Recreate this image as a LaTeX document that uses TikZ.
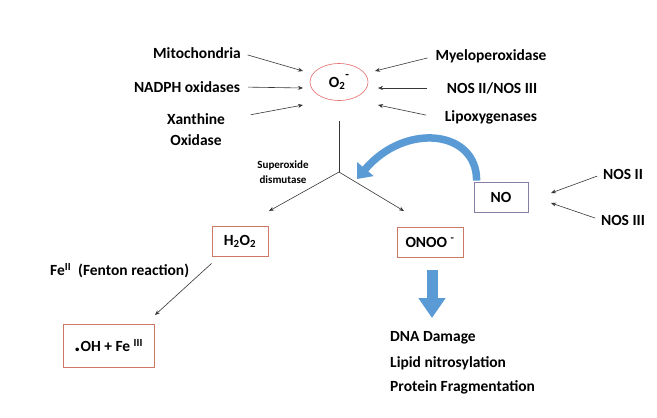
\documentclass[tikz,border=0pt]{standalone}
\usepackage{fontspec}
\setmainfont{Carlito}
\usetikzlibrary{arrows.meta,shapes.geometric}
\definecolor{boxred}{RGB}{205,120,100}
\definecolor{ellred}{RGB}{228,110,110}
\definecolor{nobox}{RGB}{135,125,165}
\definecolor{arrblue}{RGB}{91,155,213}
\definecolor{lncol}{RGB}{55,55,55}
\begin{document}
\begin{tikzpicture}[x=1pt,y=-1pt,
  lbl/.style={font=\fontsize{15.5}{21}\selectfont\bfseries, inner sep=0pt, align=center},
  small/.style={font=\fontsize{11}{15}\selectfont\bfseries, inner sep=0pt, align=center},
  conn/.style={draw=lncol, line width=0.6pt, -{Stealth[length=5pt,width=4pt]}},
  plain/.style={draw=lncol, line width=0.6pt},
  rbox/.style={draw=boxred, line width=0.8pt, font=\fontsize{15.5}{18}\selectfont\bfseries, inner sep=0pt}
]
\useasboundingbox (0,0) rectangle (657,418);
\fill[white] (0,0) rectangle (657,418);

% superoxide
\node[draw=ellred, line width=0.6pt, ellipse, minimum width=58pt, minimum height=37pt, inner sep=0pt, font=\fontsize{15.5}{18}\selectfont\bfseries] (o2) at (339,82) {\raisebox{-2pt}{O\textsubscript{2}}\raisebox{7pt}{\fontsize{12}{12}\selectfont -}};

% sources left
\node[lbl] (mito) at (197,53) {Mitochondria};
\node[lbl] (nadph) at (187,87) {NADPH oxidases};
\node[lbl] (xo) at (196,129.5) {Xanthine\\Oxidase};
% sources right
\node[lbl] (myelo) at (491,56) {Myeloperoxidase};
\node[lbl] (nos) at (492,88) {NOS II/NOS III};
\node[lbl] (lipo) at (491,117) {Lipoxygenases};

\coordinate (m1) at (303,71);
\coordinate (n1) at (303,88);
\coordinate (x1) at (303,105);
\coordinate (r1) at (375,71);
\coordinate (r2) at (378,88);
\coordinate (r3) at (378,105);
\draw[conn, shorten <=7pt] (mito.east) -- (m1);
\draw[conn, shorten <=8pt] (nadph.east) -- (n1);
\draw[conn, shorten <=26pt] ([yshift=10pt]xo.east) -- (x1);
\draw[conn, shorten <=8pt] (myelo.west) -- (r1);
\draw[conn, shorten <=20pt] (nos.west) -- (r2);
\draw[conn, shorten <=19pt] ([yshift=-2pt]lipo.west) -- (r3);

% dismutase junction
\coordinate (ytop) at (339,121);
\coordinate (yv) at (339,172);
\coordinate (yl) at (269,211);
\coordinate (yr) at (404,211);
\draw[plain] (ytop) -- (yv);
\draw[conn] (yv) -- (yl);
\draw[conn] (yv) -- (yr);
\node[small] (sod) at (283,172.5) {Superoxide\\dismutase};

% products
\node[rbox, minimum width=56pt, minimum height=30pt] (h2o2) at (240,241) {H\textsubscript{2}O\textsubscript{2}};
\node[rbox, minimum width=66pt, minimum height=30pt] (onoo) at (430,242) {ONOO \textsuperscript{-}};
\node[draw=nobox, line width=0.8pt, minimum width=54pt, minimum height=30pt, inner sep=0pt, font=\fontsize{15.5}{18}\selectfont\bfseries] (no) at (501,197) {NO};

% NOS into NO
\node[lbl] (nos2) at (623,174) {NOS II};
\node[lbl] (nos3) at (623,220) {NOS III};
\coordinate (no1) at (551,193);
\coordinate (no2) at (551,203);
\draw[conn, shorten <=6pt] (nos2.west) -- (no1);
\draw[conn, shorten <=6pt] (nos3.west) -- (no2);

% NO curved arrow
\coordinate (cb) at (357,179);
\draw[arrblue, line width=7.5pt, -{Triangle[width=21pt,length=13pt]}] ([xshift=3pt,yshift=1pt]no.north west) .. controls (477,130) and (405,122) .. (cb);

% Fenton
\node[lbl, anchor=west] (fe) at (50,271) {Fe\textsuperscript{II}\ \ (Fenton reaction)};
\node[rbox, minimum width=91pt, minimum height=43pt] (oh) at (108.5,345.5) {{\fontsize{24}{18}\selectfont.}OH + Fe \textsuperscript{III}};
\coordinate (fe1) at (155,315);
\draw[conn] ([yshift=-7pt]h2o2.south west) -- (fe1);

% ONOO effects
\coordinate (dtop) at (432,270);
\coordinate (dbot) at (432,318);
\draw[arrblue, line width=11pt, -{Triangle[width=26pt,length=20pt]}] (dtop) -- (dbot);
\node[lbl, anchor=west] (dna) at (390,338) {DNA Damage};
\node[lbl, anchor=west] (lipid) at (390,363) {Lipid nitrosylation};
\node[lbl, anchor=west] (prot) at (390,387) {Protein Fragmentation};
\end{tikzpicture}
\end{document}
